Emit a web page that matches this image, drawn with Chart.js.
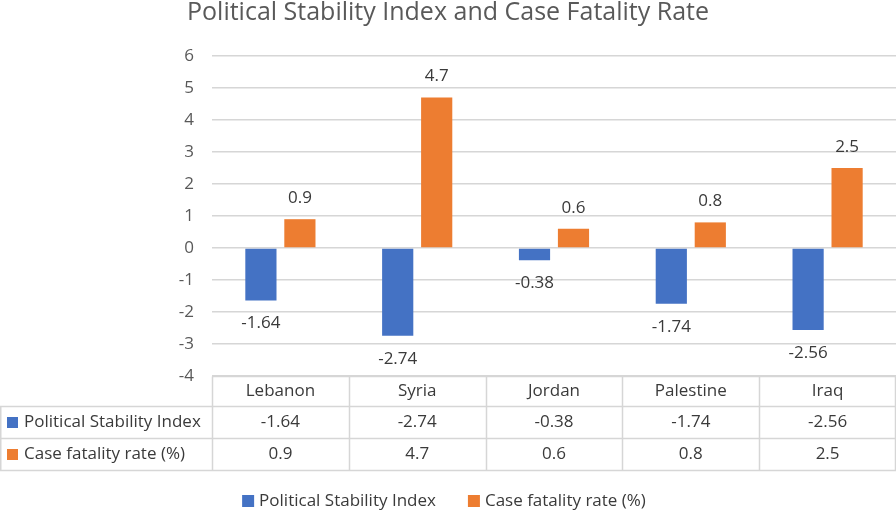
<!DOCTYPE html>
<html>
<head>
<meta charset="utf-8">
<script src="https://cdn.jsdelivr.net/npm/chart.js@4.4.0/dist/chart.umd.min.js"></script>
<style>
  html, body { margin: 0; padding: 0; background: #fff; }
  #wrap { width: 896px; height: 510px; }
</style>
</head>
<body>
<div id="wrap"><canvas id="chart"></canvas></div>
<script>
// Data
const countries = ["Lebanon", "Syria", "Jordan", "Palestine", "Iraq"];
const stabilityIndex = [-1.64, -2.74, -0.38, -1.74, -2.56];
const fatalityRate = [0.9, 4.7, 0.6, 0.8, 2.5];
const seriesNames = ["Political Stability Index", "Case fatality rate (%)"];
const yMin = -4, yMax = 6, yStep = 1;

const BLUE = "#4472C4";
const ORANGE = "#ED7D31";
const GRID = "#d6d6d6";
const FONT = "'Open Sans', Lato, sans-serif";
const TEXT = "#3a3a3a";

// value labels outside the bar ends
const valueLabels = {
  id: "valueLabels",
  afterDatasetsDraw(chart) {
    const ctx = chart.ctx;
    ctx.save();
    ctx.font = "17px " + FONT;
    ctx.fillStyle = TEXT;
    ctx.textAlign = "center";
    ctx.textBaseline = "middle";
    chart.data.datasets.forEach((ds, i) => {
      chart.getDatasetMeta(i).data.forEach((bar, j) => {
        const v = ds.data[j];
        const y = v >= 0 ? bar.y - 21 : bar.y + 23;
        ctx.fillText(String(v), bar.x, y);
      });
    });
    ctx.restore();
  }
};

// data table under the plot + legend at the bottom
const dataTable = {
  id: "dataTable",
  afterDraw(chart) {
    const ctx = chart.ctx;
    const xs = chart.scales.x;
    const area = chart.chartArea;
    const n = countries.length;
    const colW = (xs.right - xs.left) / n;
    const top = Math.round(area.bottom) + 0.5;
    const rows = [top, top + 30, top + 62, top + 94];
    ctx.save();
    ctx.strokeStyle = GRID;
    ctx.lineWidth = 1.5;
    ctx.beginPath();
    ctx.moveTo(xs.left, rows[0]); ctx.lineTo(chart.width, rows[0]);
    for (let r = 1; r < rows.length; r++) {
      ctx.moveTo(0, rows[r]); ctx.lineTo(chart.width, rows[r]);
    }
    for (let c = 0; c <= n; c++) {
      const x = Math.min(Math.round(xs.left + c * colW) + 0.5, chart.width - 0.5);
      ctx.moveTo(x, rows[0]);
      ctx.lineTo(x, rows[3]);
    }
    ctx.moveTo(0.75, rows[1]); ctx.lineTo(0.75, rows[3]);
    ctx.stroke();

    ctx.font = "17px " + FONT;
    ctx.textBaseline = "middle";
    ctx.textAlign = "center";
    ctx.fillStyle = TEXT;
    countries.forEach((c, i) => {
      const cx = xs.getPixelForValue(i);
      ctx.fillText(c, cx, (rows[0] + rows[1]) / 2);
      ctx.fillText(String(stabilityIndex[i]), cx, (rows[1] + rows[2]) / 2);
      ctx.fillText(String(fatalityRate[i]), cx, (rows[2] + rows[3]) / 2);
    });
    ctx.textAlign = "left";
    [BLUE, ORANGE].forEach((col, r) => {
      const cy = (rows[r + 1] + rows[r + 2]) / 2;
      ctx.fillStyle = col;
      ctx.fillRect(7, cy - 5.5, 11, 11);
      ctx.fillStyle = TEXT;
      ctx.fillText(seriesNames[r], 24, cy);
    });

    // legend
    const ly = 501;
    const box = 12, gapText = 5, gapItem = 32;
    const widths = seriesNames.map(s => ctx.measureText(s).width);
    const total = widths.reduce((a, w) => a + box + gapText + w, 0) + gapItem;
    let lx = chart.width / 2 - total / 2 - 4;
    [BLUE, ORANGE].forEach((col, r) => {
      ctx.fillStyle = col;
      ctx.fillRect(lx, ly - box / 2, box, box);
      ctx.fillStyle = TEXT;
      ctx.fillText(seriesNames[r], lx + box + gapText, ly);
      lx += box + gapText + widths[r] + gapItem;
    });
    ctx.restore();
  }
};

new Chart(document.getElementById("chart"), {
  type: "bar",
  data: {
    labels: countries,
    datasets: [
      { label: seriesNames[0], data: stabilityIndex, backgroundColor: BLUE },
      { label: seriesNames[1], data: fatalityRate, backgroundColor: ORANGE }
    ]
  },
  options: {
    responsive: true,
    maintainAspectRatio: false,
    animation: false,
    categoryPercentage: 0.57,
    barPercentage: 0.8,
    layout: { padding: { left: 0, right: 0, top: 0, bottom: 40 } },
    plugins: {
      title: {
        display: true,
        text: "Political Stability Index and Case Fatality Rate",
        color: "#595959",
        font: { family: FONT, size: 25, weight: "normal", lineHeight: 1 },
        padding: { top: 0, bottom: 31 }
      },
      legend: { display: false },
      tooltip: { enabled: false }
    },
    scales: {
      x: {
        grid: { display: false },
        border: { display: false },
        ticks: { display: false },
        afterFit(scale) { scale.height = 94; }
      },
      y: {
        min: yMin,
        max: yMax,
        ticks: {
          stepSize: yStep,
          color: "#595959",
          font: { family: FONT, size: 17 },
          padding: 18
        },
        grid: { color: GRID, lineWidth: 1.5, drawTicks: false },
        border: { display: false },
        afterFit(scale) { scale.width = 212; }
      }
    }
  },
  plugins: [valueLabels, dataTable]
});
</script>
</body>
</html>
